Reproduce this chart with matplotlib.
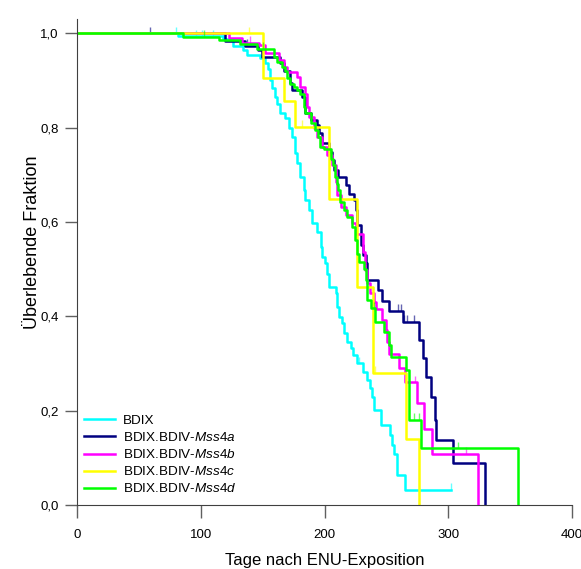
import numpy as np
import matplotlib.pyplot as plt

plt.rcParams['font.family'] = ['Liberation Sans', 'DejaVu Sans']
plt.rcParams['mathtext.fontset'] = 'custom'
plt.rcParams['mathtext.it'] = 'Liberation Sans:italic'
plt.rcParams['mathtext.rm'] = 'Liberation Sans'

# Kaplan-Meier steps: event time (days) and survival after it
bdix_t = [81.5, 118, 126, 134, 137, 148, 152, 154.4, 156.3, 157.6, 160.3, 161.7, 164.4,
          168.4, 171.1, 173.8, 176.5, 177.9, 180.6, 183.2, 184.6, 187.3, 190, 194, 196.8,
          198.1, 200.8, 202.2, 203.5, 208.9, 210.3, 211.6, 214.3, 215.6, 218.4, 221.6,
          223.2, 226.5, 231.3, 234, 236.7, 238.6, 239.9, 245.3, 252.9, 254.3, 256.1,
          258.3, 258.9, 264.8, 302.6]
bdix_s = [0.993, 0.987, 0.973, 0.964, 0.953, 0.947, 0.936, 0.924, 0.90, 0.883, 0.865, 0.85,
          0.83, 0.82, 0.80, 0.78, 0.745, 0.724, 0.695, 0.667, 0.646, 0.625, 0.597, 0.579,
          0.547, 0.526, 0.512, 0.49, 0.4625, 0.449, 0.42, 0.399, 0.385, 0.364, 0.346, 0.332,
          0.318, 0.30, 0.282, 0.265, 0.247, 0.229, 0.201, 0.169, 0.148, 0.127, 0.109,
          0.085, 0.064, 0.032, 0.032]

mss4a_t = [119.8, 136, 146, 149.6, 164.4, 167, 172.5, 173.8, 182, 184.6, 188.7, 194, 195.4,
           197.6, 203.5, 206.2, 207.5, 210.8, 217, 219.7, 223.7, 225.1, 226.5, 229.1, 231.3,
           233.2, 234.6, 242.9, 246.7, 252, 263.7, 276.4, 279.9, 281.8, 285.8, 289.1, 289.9,
           304.2, 329.8]
mss4a_s = [0.984, 0.973, 0.964, 0.95, 0.936, 0.92, 0.894, 0.879, 0.865, 0.83, 0.816, 0.805,
           0.788, 0.767, 0.748, 0.731, 0.71, 0.695, 0.678, 0.66, 0.646, 0.625, 0.593, 0.551,
           0.53, 0.512, 0.477, 0.455, 0.432, 0.411, 0.388, 0.35, 0.311, 0.272, 0.229, 0.181,
           0.138, 0.09, 0.0]

mss4b_t = [122.5, 133.4, 146.8, 152.2, 163, 167, 169.8, 177.9, 180.6, 184.6, 186, 187.3,
           191.3, 194.1, 198.1, 202.2, 206.2, 208.9, 210.3, 213, 217, 222.4, 225.1, 231.3,
           232.4, 234.6, 236.7, 239.9, 241.3, 246.7, 249.4, 250.8, 252, 260.2, 264.8, 275.1,
           280.4, 286.6, 324.1]
mss4b_s = [0.989, 0.98, 0.975, 0.957, 0.943, 0.929, 0.918, 0.907, 0.886, 0.872, 0.844, 0.823,
           0.798, 0.78, 0.759, 0.742, 0.72, 0.685, 0.657, 0.632, 0.614, 0.597, 0.575, 0.537,
           0.498, 0.47, 0.449, 0.431, 0.415, 0.392, 0.371, 0.346, 0.321, 0.29, 0.26, 0.217,
           0.162, 0.108, 0.0]

mss4c_t = [150, 167.6, 176.5, 203.5, 226.4, 239, 265.6, 276]
mss4c_s = [0.906, 0.856, 0.801, 0.648, 0.4625, 0.28, 0.14, 0.0]

mss4d_t = [86, 115, 132, 145.5, 159, 161.7, 165.7, 168.4, 169.8, 172.5, 175.1, 177.9, 180.6,
           183.2, 184.6, 188.7, 192.7, 194.6, 196.2, 199.4, 204.9, 207, 208.1, 209.7, 210.8,
           212.4, 215.6, 218.4, 222.4, 224.3, 226.5, 227.8, 231.8, 233.2, 234.6, 237.2,
           240.5, 248, 252.1, 253.4, 265.6, 268.3, 278.3, 356]
mss4d_s = [0.992, 0.985, 0.976, 0.967, 0.95, 0.939, 0.929, 0.92, 0.904, 0.893, 0.886, 0.879,
           0.872, 0.844, 0.83, 0.809, 0.794, 0.78, 0.759, 0.755, 0.734, 0.72, 0.695, 0.681,
           0.667, 0.643, 0.625, 0.611, 0.59, 0.561, 0.533, 0.515, 0.501, 0.477, 0.434, 0.417,
           0.388, 0.367, 0.339, 0.314, 0.286, 0.18, 0.12, 0.0]

# censored observations (days)
bdix_c = [80, 96, 101, 110, 118, 228, 302.6]
mss4a_c = [59, 137, 259, 261.5, 264, 267, 272]
mss4b_c = [140, 205, 250, 273, 314]
mss4c_c = [139, 182, 241]
mss4d_c = [103, 150, 240, 272, 276, 308]

labels = ['BDIX', 'BDIX.BDIV-$\\mathit{Mss4a}$', 'BDIX.BDIV-$\\mathit{Mss4b}$',
          'BDIX.BDIV-$\\mathit{Mss4c}$', 'BDIX.BDIV-$\\mathit{Mss4d}$']
colors = ['#00ffff', '#000080', '#ff00ff', '#ffff00', '#00ff00']

groups = [(bdix_t, bdix_s, bdix_c), (mss4a_t, mss4a_s, mss4a_c), (mss4b_t, mss4b_s, mss4b_c),
          (mss4c_t, mss4c_s, mss4c_c), (mss4d_t, mss4d_s, mss4d_c)]

fig = plt.figure(figsize=(5.81, 5.69), dpi=100)
ax = fig.add_axes([77 / 581, 64 / 569, 495 / 581, 486 / 569])

for (t, s, c), col, lab in zip(groups, colors, labels):
    tt = np.concatenate([[0.0], t])
    ss = np.concatenate([[1.0], s])
    ax.step(tt, ss, where='post', color=col, lw=1.8, label=lab)
    idx = np.searchsorted(tt, c, side='right') - 1
    sc = ss[idx]
    ax.vlines(c, sc, sc + 0.014, color=col, lw=1.0, alpha=0.6)

ax.set_xlim(0, 400)
ax.set_ylim(0, 1.03)
ax.set_xticks([0, 100, 200, 300, 400])
ax.set_yticks([0, 0.2, 0.4, 0.6, 0.8, 1.0])
ax.set_yticklabels(['0,0', '0,2', '0,4', '0,6', '0,8', '1,0'])
ax.tick_params(direction='out', length=9, width=1, color='#606060', labelsize=9.5, pad=4)
ax.tick_params(axis='x', pad=8)
for side in ['top', 'right']:
    ax.spines[side].set_visible(False)
for side in ['left', 'bottom']:
    ax.spines[side].set_color('#404040')

ax.set_xlabel('Tage nach ENU-Exposition', fontsize=12, labelpad=9)
ax.set_ylabel('Überlebende Fraktion', fontsize=13, labelpad=3)
ax.yaxis.set_label_coords(-0.072, 0.54)

ax.legend(loc='lower left', bbox_to_anchor=(-0.01, -0.005), frameon=False, fontsize=9.7,
          handlelength=2.3, labelspacing=0.3, handletextpad=0.6)

fig.savefig('out.png', dpi=100)
